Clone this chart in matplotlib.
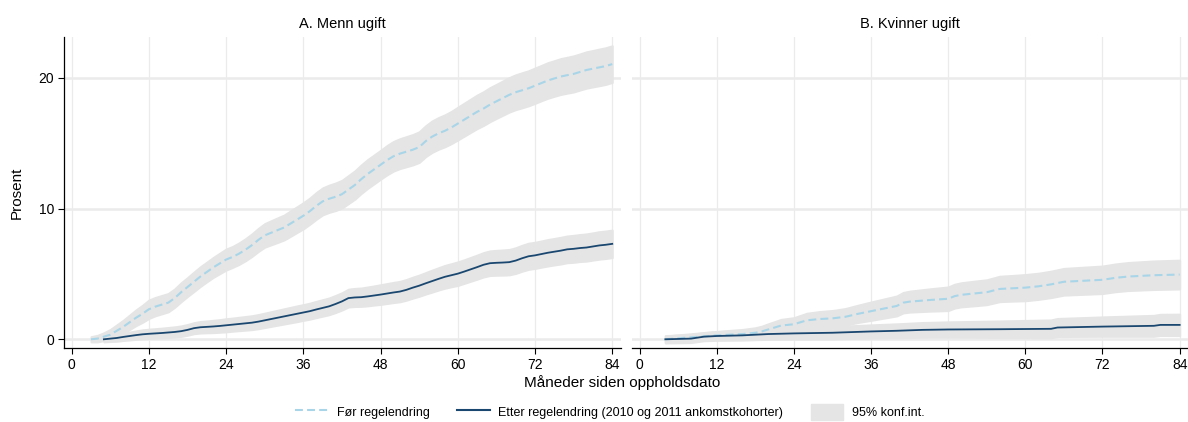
import matplotlib
matplotlib.use("Agg")
import matplotlib.pyplot as plt
from matplotlib.patches import Patch
from matplotlib.lines import Line2D

plt.rcParams["font.family"] = ["Liberation Sans", "DejaVu Sans"]

# --- A. Menn ugift -------------------------------------------------------
men_before_m = list(range(3, 85))
men_before = [
    0.0, 0.05, 0.2, 0.35, 0.65, 0.95, 1.3, 1.65, 1.95,
    2.3, 2.5, 2.65, 2.8, 3.15, 3.6, 4.0, 4.4, 4.8, 5.15, 5.5, 5.8,
    6.1, 6.3, 6.55, 6.85, 7.2, 7.6, 7.95, 8.15, 8.35, 8.55, 8.85, 9.15,
    9.45, 9.8, 10.2, 10.55, 10.75, 10.9, 11.1, 11.45, 11.8, 12.25, 12.65, 13.0,
    13.35, 13.7, 14.0, 14.2, 14.35, 14.5, 14.7, 15.15, 15.5, 15.75, 15.95, 16.2,
    16.5, 16.8, 17.1, 17.4, 17.65, 17.95, 18.2, 18.45, 18.7, 18.9, 19.05, 19.2,
    19.4, 19.6, 19.8, 19.95, 20.1, 20.2, 20.3, 20.45, 20.6, 20.7, 20.8, 20.9, 21.05,
]
men_before_ci = [
    0.2, 0.25, 0.3, 0.4, 0.45, 0.5, 0.55, 0.6, 0.65,
    0.7, 0.7, 0.7, 0.7, 0.7, 0.72, 0.72, 0.74, 0.75, 0.75, 0.76, 0.78,
    0.8, 0.8, 0.82, 0.84, 0.86, 0.88, 0.9, 0.92, 0.94, 0.95, 0.97, 0.98,
    1.0, 1.0, 1.02, 1.03, 1.04, 1.05, 1.06, 1.07, 1.08, 1.09, 1.1, 1.1,
    1.1, 1.12, 1.13, 1.14, 1.15, 1.16, 1.17, 1.18, 1.2, 1.21, 1.22, 1.23,
    1.25, 1.26, 1.27, 1.28, 1.29, 1.3, 1.3, 1.31, 1.32, 1.33, 1.34, 1.34,
    1.35, 1.35, 1.36, 1.36, 1.37, 1.37, 1.38, 1.38, 1.39, 1.39, 1.4, 1.4, 1.4,
]

men_after_m = list(range(5, 85))
men_after = [
    0.0, 0.05, 0.1, 0.18, 0.25, 0.32, 0.38,
    0.42, 0.45, 0.48, 0.52, 0.56, 0.62, 0.72, 0.85, 0.92, 0.95, 0.98, 1.02,
    1.07, 1.12, 1.17, 1.22, 1.27, 1.35, 1.45, 1.55, 1.65, 1.75, 1.85, 1.95,
    2.05, 2.15, 2.28, 2.4, 2.52, 2.7, 2.9, 3.15, 3.2, 3.22, 3.28, 3.35,
    3.42, 3.5, 3.58, 3.65, 3.78, 3.95, 4.1, 4.28, 4.45, 4.62, 4.78, 4.9,
    5.02, 5.18, 5.35, 5.52, 5.7, 5.82, 5.85, 5.87, 5.9, 6.02, 6.2, 6.35,
    6.42, 6.52, 6.62, 6.7, 6.78, 6.88, 6.92, 6.98, 7.02, 7.1, 7.18, 7.23, 7.3,
]
men_after_ci = [
    0.2, 0.22, 0.25, 0.27, 0.3, 0.32, 0.34,
    0.35, 0.36, 0.37, 0.38, 0.39, 0.4, 0.41, 0.42, 0.44, 0.45, 0.47, 0.48,
    0.5, 0.5, 0.51, 0.52, 0.53, 0.54, 0.55, 0.56, 0.57, 0.58, 0.59, 0.6,
    0.6, 0.61, 0.62, 0.63, 0.64, 0.65, 0.66, 0.68, 0.69, 0.7, 0.72, 0.73,
    0.75, 0.76, 0.77, 0.78, 0.79, 0.8, 0.81, 0.82, 0.84, 0.85, 0.87, 0.88,
    0.9, 0.9, 0.91, 0.92, 0.93, 0.94, 0.95, 0.96, 0.97, 0.98, 0.99, 1.0,
    1.0, 1.0, 1.01, 1.01, 1.02, 1.02, 1.03, 1.03, 1.04, 1.04, 1.05, 1.05, 1.05,
]

# --- B. Kvinner ugift ----------------------------------------------------
women_before_m = [4, 8, 12, 16, 18, 19, 20, 21, 22, 24, 25, 26, 28, 30, 32, 34, 36,
                  38, 40, 41, 42, 45, 48, 49, 50, 52, 54, 56, 58, 60, 62, 64, 66,
                  68, 70, 72, 74, 76, 78, 80, 84]
women_before = [0.0, 0.15, 0.3, 0.4, 0.5, 0.6, 0.75, 0.9, 1.05, 1.15, 1.3, 1.45, 1.55,
                1.6, 1.72, 1.95, 2.15, 2.35, 2.55, 2.8, 2.88, 3.0, 3.1, 3.3, 3.4, 3.5,
                3.6, 3.85, 3.9, 3.95, 4.05, 4.2, 4.4, 4.45, 4.5, 4.55, 4.7, 4.8, 4.85,
                4.9, 4.95]
women_before_ci = [0.25, 0.27, 0.3, 0.35, 0.38, 0.4, 0.43, 0.45, 0.47, 0.5, 0.52, 0.54,
                   0.57, 0.6, 0.63, 0.66, 0.7, 0.73, 0.76, 0.78, 0.8, 0.85, 0.9, 0.91,
                   0.92, 0.94, 0.95, 0.97, 0.98, 1.0, 1.0, 1.01, 1.02, 1.03, 1.04, 1.05,
                   1.06, 1.07, 1.08, 1.09, 1.1]

women_after_m = [4, 8, 10, 12, 16, 20, 24, 30, 36, 40, 44, 48, 56, 64, 65, 68, 72, 76,
                 80, 81, 84]
women_after = [0.0, 0.05, 0.2, 0.25, 0.3, 0.4, 0.45, 0.5, 0.6, 0.65, 0.72, 0.75, 0.77,
               0.8, 0.9, 0.93, 0.97, 1.0, 1.03, 1.1, 1.1]
women_after_ci = [0.28, 0.3, 0.31, 0.33, 0.36, 0.4, 0.43, 0.47, 0.5, 0.53, 0.56, 0.58,
                  0.63, 0.68, 0.69, 0.71, 0.74, 0.77, 0.8, 0.81, 0.82]

panels = [
    ("A. Menn ugift", men_before_m, men_before, men_before_ci,
     men_after_m, men_after, men_after_ci),
    ("B. Kvinner ugift", women_before_m, women_before, women_before_ci,
     women_after_m, women_after, women_after_ci),
]

x_ticks = [0, 12, 24, 36, 48, 60, 72, 84]
y_ticks = [0, 10, 20]

BEFORE_COL = "#a9d5e8"
AFTER_COL = "#1a476f"
BAND_COL = "#e5e5e5"
GRID_COL = "#ebebeb"

W, H = 1188, 422
fig = plt.figure(figsize=(W / 100, H / 100), dpi=100)
boxes = [(64, 620.6), (631.9, 1188)]
top_px, bot_px = 37.3, 348.3

for (title, bm, bv, bc, am, av, ac), (x0, x1) in zip(panels, boxes):
    ax = fig.add_axes([x0 / W, 1 - bot_px / H, (x1 - x0) / W, (bot_px - top_px) / H])
    for m, v, c in ((bm, bv, bc), (am, av, ac)):
        lo = [a - b for a, b in zip(v, c)]
        hi = [a + b for a, b in zip(v, c)]
        ax.fill_between(m, lo, hi, facecolor=BAND_COL, edgecolor=BAND_COL,
                        linewidth=1.5, zorder=2)
    ax.plot(bm, bv, color=BEFORE_COL, lw=1.5, dashes=(3.8, 2.0), zorder=3)
    ax.plot(am, av, color=AFTER_COL, lw=1.3, zorder=4)

    ax.set_xlim(-1.2, 85.3)
    ax.set_ylim(-0.69, 23.1)
    ax.set_xticks(x_ticks)
    ax.set_yticks(y_ticks)
    for t in x_ticks:
        ax.axvline(t, color=GRID_COL, lw=0.9, zorder=0)
    for t in y_ticks:
        ax.axhline(t, color=GRID_COL, lw=1.8, zorder=0)
    ax.tick_params(axis="both", length=4, width=0.8, labelsize=10, pad=3)
    for s in ("top", "right"):
        ax.spines[s].set_visible(False)
    ax.spines["bottom"].set_linewidth(0.9)
    ax.spines["left"].set_linewidth(0.9)
    if x0 > 100:
        ax.spines["left"].set_visible(False)
        ax.tick_params(axis="y", left=False, labelleft=False)
    fig.text(((x0 + x1) / 2) / W, 1 - 24 / H, title, ha="center", va="center",
             fontsize=10.5)

fig.text(622 / W, 1 - 383 / H, "Måneder siden oppholdsdato", ha="center", va="center",
         fontsize=11)
fig.text(17 / W, 1 - 193 / H, "Prosent", ha="center", va="center", rotation=90,
         fontsize=11)

handles = [
    Line2D([], [], color=BEFORE_COL, lw=1.5, dashes=(3.8, 2.0)),
    Line2D([], [], color=AFTER_COL, lw=1.5),
    Patch(facecolor=BAND_COL, edgecolor=BAND_COL),
]
labels = ["Før regelendring", "Etter regelendring (2010 og 2011 ankomstkohorter)",
          "95% konf.int."]
fig.legend(handles, labels, loc="center", bbox_to_anchor=(610 / W, 1 - 412 / H),
           ncol=3, frameon=False, fontsize=9, handlelength=2.6, handletextpad=0.7,
           columnspacing=2.2, handleheight=1.6)

fig.savefig("out.png", dpi=100)
